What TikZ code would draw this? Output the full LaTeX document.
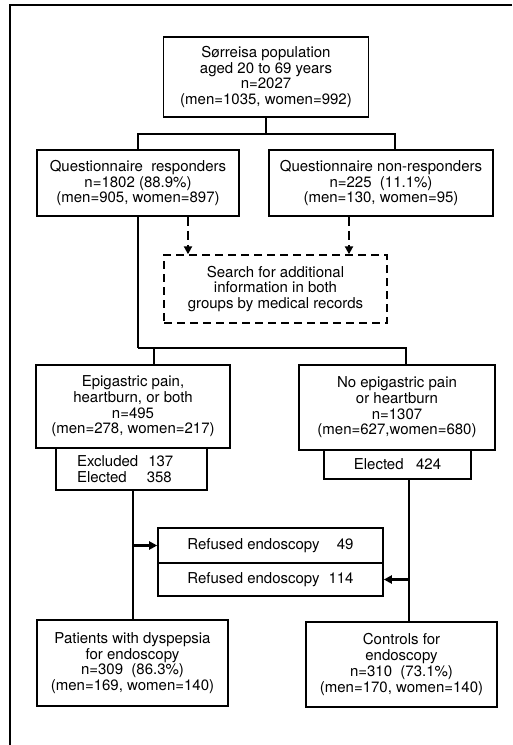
\documentclass[tikz,border=0pt]{standalone}
\usepackage{fontspec}
\setmainfont{TeX Gyre Heros}
\usetikzlibrary{arrows.meta, positioning}

\tikzset{
    box/.style={draw, line width=1.6pt, align=center, inner sep=0pt,
        font=\fontsize{15}{15.7}\selectfont},
    dashbox/.style={box, line width=1.4pt, dash pattern=on 8pt off 5pt},
    conn/.style={line width=2.4pt},
    tip/.style={-{Triangle[length=8pt,width=8pt]}},
}

\begin{document}
\begin{tikzpicture}[x=1pt, y=-1pt]
    \useasboundingbox (0,0) rectangle (512,745);
    \draw[line width=1.6pt] (512,5) -- (10,5) -- (10,745);

    \node[box, minimum width=205pt, minimum height=80pt] (pop) at (266,77)
        {Sørreisa population\\aged 20 to 69 years\\n=2027\\(men=1035, women=992)};
    \node[box, minimum width=202pt, minimum height=66pt] (resp) at (138,183)
        {Questionnaire\ \ responders\\n=1802 (88.9\%)\\(men=905, women=897)};
    \node[box, minimum width=224pt, minimum height=66pt] (nonresp) at (381,183)
        {Questionnaire non-responders\\n=225\ \ (11.1\%)\\(men=130, women=95)};
    \node[dashbox, minimum width=223pt, minimum height=68pt] (search) at (275.5,289)
        {Search for additional\\information in both\\groups by medical records};
    \node[box, minimum width=194pt, minimum height=83pt] (epi) at (133,406.5)
        {Epigastric pain,\\heartburn, or both\\n=495\\(men=278, women=217)};
    \node[box, minimum width=196pt, minimum height=85pt] (noepi) at (397,407.5)
        {No epigastric pain\\or heartburn\\n=1307\\(men=627,women=680)};
    \node[box, align=left, minimum width=151pt, text width=109pt, minimum height=42pt] (excl) at (131.5,469)
        {Excluded\ \ 137\\Elected\ \ \ \ 358};
    \node[box, minimum width=147pt, minimum height=29pt] (elect) at (397.5,464.5)
        {Elected\ \ \ 424};
    \node[box, minimum width=225pt, minimum height=35pt] (ref49) at (270.5,545.5)
        {Refused endoscopy\hspace{9pt}\makebox[25pt][r]{49}};
    \node[box, minimum width=225pt, minimum height=33pt] (ref114) at (270.5,579.5)
        {Refused endoscopy\hspace{9pt}\makebox[25pt][r]{114}};
    \node[box, minimum width=191pt, minimum height=86pt] (pat) at (132.5,663)
        {Patients with dyspepsia\\for endoscopy\\n=309\ \ (86.3\%)\\(men=169, women=140)};
    \node[box, minimum width=191pt, minimum height=85pt] (ctrl) at (401.5,664.5)
        {Controls for\\endoscopy\\n=310\ \ (73.1\%)\\(men=170, women=140)};

    % split of the population
    \draw[conn] (pop.south) -- ++(0,16) coordinate (j1);
    \draw[conn] (resp.north) |- (j1) -| ([xshift=14pt]nonresp.north);

    % responders split by symptoms
    \draw[conn] (resp.south) -- ++(0,131) coordinate (j2);
    \draw[conn] ([xshift=21pt]epi.north) |- (j2) -| ([xshift=9pt]noepi.north);

    % medical records
    \draw[conn, tip, dash pattern=on 9pt off 5pt] ([xshift=50pt]resp.south) -- ([xshift=50pt]resp.south |- search.north);
    \draw[conn, tip, dash pattern=on 9pt off 5pt] ([xshift=-32pt]nonresp.south) -- ([xshift=-32pt]nonresp.south |- search.north);

    % to endoscopy
    \draw[conn] ([xshift=1.5pt]excl.south) coordinate (l1) -- (l1 |- pat.north);
    \draw[conn, tip] (l1 |- ref49.west) -- (ref49.west);
    \draw[conn] ([xshift=11.5pt]elect.south) coordinate (r1) -- (r1 |- ctrl.north);
    \draw[conn, tip] (r1 |- ref114.east) -- (ref114.east);
\end{tikzpicture}
\end{document}
